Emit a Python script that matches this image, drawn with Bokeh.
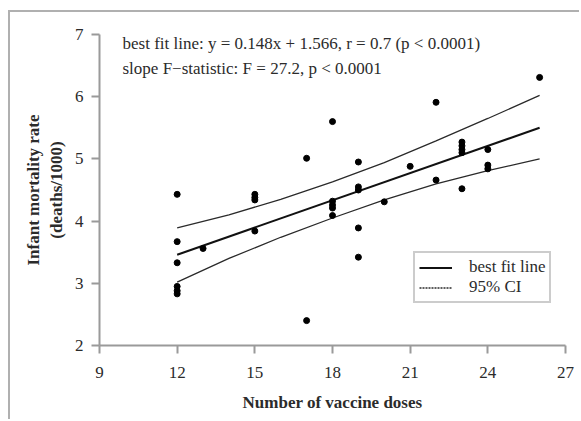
from bokeh.plotting import figure
from bokeh.models import Range1d, Legend, LegendItem, Label, FixedTicker
from bokeh.embed import file_html
from bokeh.resources import INLINE

# ---- data ----
dose_x = [12, 12, 12, 12, 12, 12, 13, 15, 15, 15, 15, 17, 17, 18, 18, 18, 18, 18,
          19, 19, 19, 19, 19, 20, 21, 22, 22, 23, 23, 23, 23, 23, 24, 24, 24, 26]
imr_y = [4.43, 3.67, 3.33, 2.95, 2.88, 2.83, 3.56, 4.43, 4.38, 4.34, 3.84, 5.01, 2.40,
         5.60, 4.32, 4.26, 4.21, 4.09, 4.95, 4.55, 4.50, 3.89, 3.42, 4.31, 4.88,
         5.91, 4.66, 5.27, 5.21, 5.15, 5.10, 4.52, 5.15, 4.90, 4.84, 6.31]

fit_x = [12, 26]
fit_y = [3.46, 5.50]

ci_x = [12, 14, 16, 18, 20, 22, 24, 26]
ci_upper = [3.89, 4.10, 4.35, 4.63, 4.94, 5.29, 5.65, 6.02]
ci_lower = [3.02, 3.40, 3.74, 4.05, 4.34, 4.60, 4.81, 5.00]

x_ticks = [9, 12, 15, 18, 21, 24, 27]
y_ticks = [2, 3, 4, 5, 6, 7]

annot_1 = "best fit line: y = 0.148x + 1.566, r = 0.7 (p < 0.0001)"
annot_2 = "slope F\u2212statistic: F = 27.2, p < 0.0001"

SERIF = "Liberation Serif"
TXT = "#2b2b2b"
AX = "#9a9a9a"

p = figure(width=571, height=409, output_backend="svg", toolbar_location=None,
           x_range=Range1d(9, 27), y_range=Range1d(2, 7),
           min_border_left=89, min_border_right=16, min_border_top=22, min_border_bottom=76,
           background_fill_color="white", border_fill_color="white")
p.outline_line_color = None
p.grid.visible = False

for ax, ticks in ((p.xaxis[0], x_ticks), (p.yaxis[0], y_ticks)):
    ax.ticker = FixedTicker(ticks=ticks)
    ax.minor_tick_line_color = None
    ax.axis_line_color = AX
    ax.axis_line_width = 2
    ax.major_tick_line_color = AX
    ax.major_tick_line_width = 2
    ax.major_tick_out = 8
    ax.major_tick_in = 0
    ax.major_label_text_font = SERIF
    ax.major_label_text_font_size = "17px"
    ax.major_label_text_color = TXT
    ax.axis_label_text_font = SERIF
    ax.axis_label_text_font_style = "bold"
    ax.axis_label_text_font_size = "17px"
    ax.axis_label_text_color = TXT

p.xaxis.major_label_standoff = 13
p.xaxis.axis_label = "Number of vaccine doses"
p.xaxis.axis_label_standoff = 12
p.yaxis.major_label_standoff = 8
p.yaxis.axis_label = "Infant mortality rate\n(deaths/1000)"
p.yaxis.axis_label_standoff = 6

r_up = p.line(ci_x, ci_upper, line_color="#2a2a2a", line_width=1.3)
r_lo = p.line(ci_x, ci_lower, line_color="#2a2a2a", line_width=1.3)
r_fit = p.line(fit_x, fit_y, line_color="#111111", line_width=2)
p.scatter(dose_x, imr_y, size=6, color="black")
# legend sample for the CI (dotted in the key only; hidden in the plot)
r_ci_key = p.line(ci_x, ci_upper, line_color="#2a2a2a", line_width=1.3,
                  line_dash="2 1", visible=False)

legend = Legend(items=[LegendItem(label="best fit line", renderers=[r_fit]),
                       LegendItem(label="95% CI", renderers=[r_ci_key])],
                location=(314, 42), orientation="vertical",
                border_line_color=AX, border_line_width=2,
                background_fill_color="white", background_fill_alpha=1,
                label_text_font=SERIF, label_text_font_size="17px",
                label_text_color=TXT, glyph_width=33, glyph_height=17,
                label_standoff=17, padding=4, spacing=0, margin=0,
                label_height=17)
p.add_layout(legend, "center")

for txt, yoff in ((annot_1, 302), (annot_2, 277)):
    p.add_layout(Label(x=23, y=yoff, x_units="screen", y_units="screen", text=txt,
                       text_font=SERIF, text_font_size="17px", text_color=TXT,
                       text_baseline="middle"))

p.styles = {"margin-left": "8px", "margin-top": "10px",
            "border-left": "2px solid #b0b0b0", "border-top": "2px solid #b0b0b0"}

open("out.html", "w").write(file_html(p, INLINE))
